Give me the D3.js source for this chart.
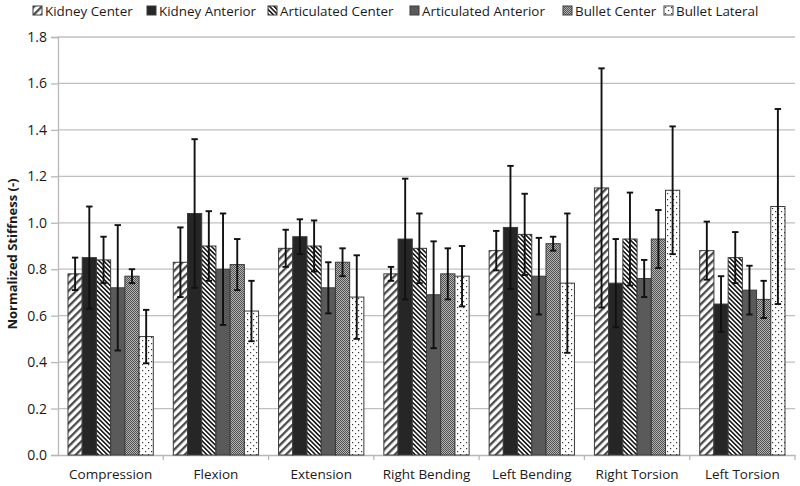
<!DOCTYPE html>
<html>
<head>
<meta charset="utf-8">
<script src="https://cdn.jsdelivr.net/npm/d3@7"></script>
<style>
  html, body { margin: 0; padding: 0; background: #fff; }
  svg { display: block; font-family: "Open Sans", "Noto Sans", sans-serif; }
</style>
</head>
<body>
<svg id="chart" width="800" height="486"></svg>
<script>
(function () {
  'use strict';

  var categories = ['Compression', 'Flexion', 'Extension', 'Right Bending',
    'Left Bending', 'Right Torsion', 'Left Torsion'];
  var series = ['Kidney Center', 'Kidney Anterior', 'Articulated Center',
    'Articulated Anterior', 'Bullet Center', 'Bullet Lateral'];

  // means, one array per series, in category order
  var kidneyCenter      = [0.78, 0.83, 0.89, 0.78, 0.88, 1.15, 0.88];
  var kidneyAnterior    = [0.85, 1.04, 0.94, 0.93, 0.98, 0.74, 0.65];
  var articCenter       = [0.84, 0.90, 0.90, 0.89, 0.95, 0.93, 0.85];
  var articAnterior     = [0.72, 0.80, 0.72, 0.69, 0.77, 0.76, 0.71];
  var bulletCenter      = [0.77, 0.82, 0.83, 0.78, 0.91, 0.93, 0.67];
  var bulletLateral     = [0.51, 0.62, 0.68, 0.77, 0.74, 1.14, 1.07];

  // standard deviations (error bar half-lengths)
  var kidneyCenterSd    = [0.07, 0.15, 0.08, 0.03, 0.085, 0.515, 0.125];
  var kidneyAnteriorSd  = [0.22, 0.32, 0.075, 0.26, 0.265, 0.19, 0.12];
  var articCenterSd     = [0.10, 0.15, 0.11, 0.15, 0.175, 0.20, 0.11];
  var articAnteriorSd   = [0.27, 0.24, 0.11, 0.23, 0.165, 0.08, 0.105];
  var bulletCenterSd    = [0.03, 0.11, 0.06, 0.11, 0.03, 0.125, 0.08];
  var bulletLateralSd   = [0.115, 0.13, 0.18, 0.13, 0.30, 0.275, 0.42];

  var yTicks = [0, 0.2, 0.4, 0.6, 0.8, 1.0, 1.2, 1.4, 1.6, 1.8];

  var means = [kidneyCenter, kidneyAnterior, articCenter, articAnterior, bulletCenter, bulletLateral];
  var sds = [kidneyCenterSd, kidneyAnteriorSd, articCenterSd, articAnteriorSd, bulletCenterSd, bulletLateralSd];
  var fills = ['url(#p-kc)', '#262626', 'url(#p-ac)', '#5a5a5a', 'url(#p-bc)', 'url(#p-bl)'];

  var rows = [];
  categories.forEach(function (c, ci) {
    series.forEach(function (s, si) {
      rows.push({ cat: c, ser: s, si: si, v: means[si][ci], sd: sds[si][ci] });
    });
  });

  var svg = d3.select('#chart');
  var left = 58, right = 795, top = 37, bottom = 455;

  // ── Patterns ────────────────────────────────────────────────────────────
  var defs = svg.append('defs');

  var kc = defs.append('pattern').attr('id', 'p-kc').attr('patternUnits', 'userSpaceOnUse')
    .attr('width', 5.5).attr('height', 5.5).attr('patternTransform', 'rotate(45)');
  kc.append('rect').attr('width', 5.5).attr('height', 5.5).attr('fill', '#fff');
  kc.append('rect').attr('width', 2.3).attr('height', 5.5).attr('fill', '#4a4a4a');

  var ac = defs.append('pattern').attr('id', 'p-ac').attr('patternUnits', 'userSpaceOnUse')
    .attr('width', 3.2).attr('height', 3.2).attr('patternTransform', 'rotate(-45)');
  ac.append('rect').attr('width', 3.2).attr('height', 3.2).attr('fill', '#fff');
  ac.append('rect').attr('width', 1.6).attr('height', 3.2).attr('fill', '#1a1a1a');

  var bc = defs.append('pattern').attr('id', 'p-bc').attr('patternUnits', 'userSpaceOnUse')
    .attr('width', 2).attr('height', 2);
  bc.append('rect').attr('width', 2).attr('height', 2).attr('fill', '#b4b4b4');
  bc.append('rect').attr('width', 1).attr('height', 1).attr('fill', '#505050');
  bc.append('rect').attr('x', 1).attr('y', 1).attr('width', 1).attr('height', 1).attr('fill', '#505050');

  var bl = defs.append('pattern').attr('id', 'p-bl').attr('patternUnits', 'userSpaceOnUse')
    .attr('width', 6).attr('height', 6);
  bl.append('rect').attr('width', 6).attr('height', 6).attr('fill', '#fff');
  bl.append('rect').attr('x', 1).attr('y', 1).attr('width', 1.2).attr('height', 1.2).attr('fill', '#333');
  bl.append('rect').attr('x', 4).attr('y', 4).attr('width', 1.2).attr('height', 1.2).attr('fill', '#333');

  // ── Scales ──────────────────────────────────────────────────────────────
  var x0 = d3.scaleBand().domain(categories).range([left, right])
    .paddingInner(0.19).paddingOuter(0.095);
  var x1 = d3.scaleBand().domain(series).range([0, x0.bandwidth()]);
  var y = d3.scaleLinear().domain([0, 1.8]).range([bottom, top]);

  // Gridlines
  svg.append('g')
    .selectAll('line')
    .data(yTicks.slice(1))
    .join('line')
    .attr('x1', left).attr('x2', right)
    .attr('y1', function (d) { return y(d); })
    .attr('y2', function (d) { return y(d); })
    .attr('stroke', '#c0c0c0')
    .attr('stroke-width', 1.3);

  // Y axis
  var yAxis = svg.append('g')
    .attr('transform', 'translate(' + left + ',0)')
    .call(d3.axisLeft(y).tickValues(yTicks).tickFormat(d3.format('.1f')).tickSize(7).tickPadding(4));
  yAxis.selectAll('path, line').attr('stroke', '#b8b8b8').attr('stroke-width', 1.3);
  yAxis.selectAll('text').attr('font-size', 14).attr('fill', '#1a1a1a')
    .style('font-family', '"Open Sans", sans-serif');

  // X axis
  var xAxis = svg.append('g')
    .attr('transform', 'translate(0,' + bottom + ')')
    .call(d3.axisBottom(x0).tickSize(0).tickPadding(14));
  xAxis.select('.domain').attr('stroke', '#b8b8b8').attr('stroke-width', 1.3);
  xAxis.selectAll('text').attr('font-size', 13.5).attr('fill', '#1a1a1a')
    .style('font-family', '"Open Sans", sans-serif');

  // category separators on the x axis
  var step = x0.step();
  svg.append('g')
    .selectAll('line')
    .data(categories)
    .join('line')
    .attr('x1', function (d) { return x0(d) - x0.paddingOuter() * step + step; })
    .attr('x2', function (d) { return x0(d) - x0.paddingOuter() * step + step; })
    .attr('y1', bottom).attr('y2', bottom + 5)
    .attr('stroke', '#b8b8b8').attr('stroke-width', 1.3);

  // ── Bars ────────────────────────────────────────────────────────────────
  var bars = svg.append('g');
  bars.selectAll('rect')
    .data(rows)
    .join('rect')
    .attr('x', function (d) { return x0(d.cat) + x1(d.ser); })
    .attr('y', function (d) { return y(d.v); })
    .attr('width', x1.bandwidth())
    .attr('height', function (d) { return y(0) - y(d.v); })
    .attr('fill', function (d) { return fills[d.si]; })
    .attr('stroke', '#3a3a3a')
    .attr('stroke-width', 1);

  // Error bars
  var eb = svg.append('g').attr('stroke', '#111').attr('stroke-width', 1.9);
  var cx = function (d) { return x0(d.cat) + x1(d.ser) + x1.bandwidth() / 2; };
  eb.selectAll('line.v')
    .data(rows)
    .join('line')
    .attr('class', 'v')
    .attr('x1', cx).attr('x2', cx)
    .attr('y1', function (d) { return y(d.v + d.sd); })
    .attr('y2', function (d) { return y(d.v - d.sd); });
  eb.selectAll('line.t')
    .data(rows)
    .join('line')
    .attr('class', 't')
    .attr('x1', function (d) { return cx(d) - 3.2; })
    .attr('x2', function (d) { return cx(d) + 3.2; })
    .attr('y1', function (d) { return y(d.v + d.sd); })
    .attr('y2', function (d) { return y(d.v + d.sd); });
  eb.selectAll('line.b')
    .data(rows)
    .join('line')
    .attr('class', 'b')
    .attr('x1', function (d) { return cx(d) - 3.2; })
    .attr('x2', function (d) { return cx(d) + 3.2; })
    .attr('y1', function (d) { return y(d.v - d.sd); })
    .attr('y2', function (d) { return y(d.v - d.sd); });

  // Y title
  svg.append('text')
    .attr('transform', 'translate(17,' + ((top + bottom) / 2 + 8) + ') rotate(-90)')
    .attr('text-anchor', 'middle')
    .attr('font-size', 13)
    .attr('font-weight', 'bold')
    .attr('fill', '#1a1a1a')
    .text('Normalized Stiffness (-)');

  // ── Legend ──────────────────────────────────────────────────────────────
  var legendX = [33, 147, 268, 410, 563, 664];
  var lg = svg.append('g')
    .selectAll('g')
    .data(series)
    .join('g')
    .attr('transform', function (d, i) { return 'translate(' + legendX[i] + ',6)'; });
  lg.append('rect')
    .attr('width', 9).attr('height', 9)
    .attr('fill', function (d, i) { return fills[i]; })
    .attr('stroke', '#3a3a3a').attr('stroke-width', 1);
  lg.append('text')
    .attr('x', 12).attr('y', 9.8)
    .attr('font-size', 13.4)
    .attr('fill', '#1a1a1a')
    .text(function (d) { return d; });
})();
</script>
</body>
</html>
